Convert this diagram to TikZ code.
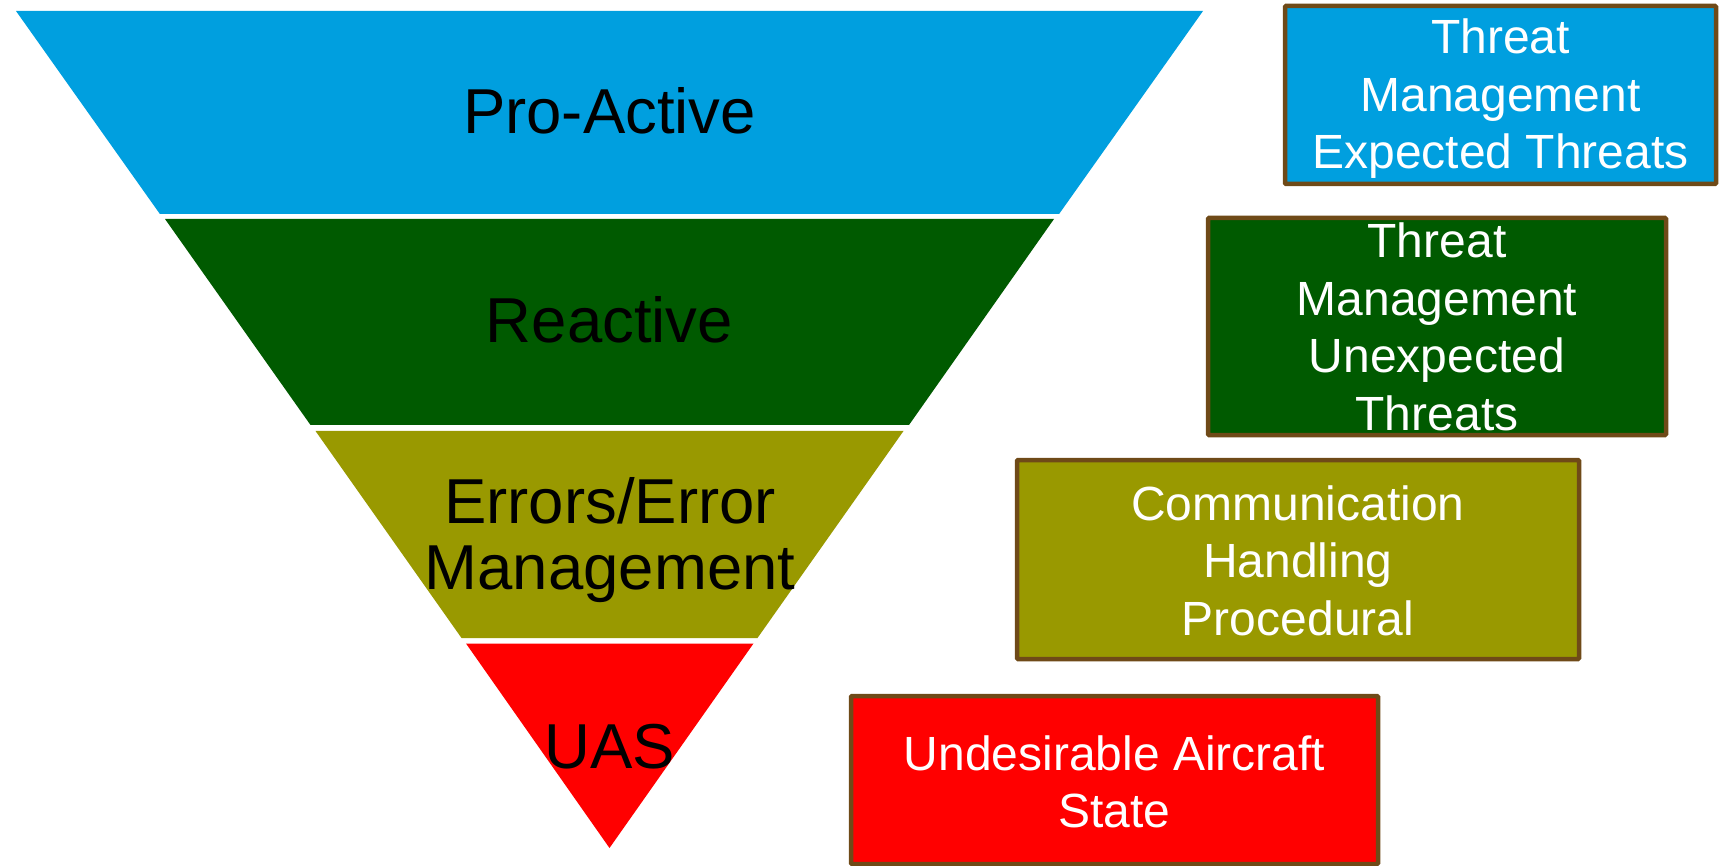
\documentclass[tikz,border=0pt]{standalone}
\usepackage{fontspec}
\setmainfont{Liberation Sans}

\definecolor{problue}{HTML}{009FDF}
\definecolor{reactgreen}{HTML}{005A00}
\definecolor{errolive}{HTML}{999900}
\definecolor{uasred}{HTML}{FF0000}
\definecolor{boxbrown}{HTML}{6F4A18}

% centred lines whose first baseline is the node's base
\newcommand\stacklines[1]{\begin{tabular}[t]{@{}c@{}}#1\end{tabular}}

\begin{document}
\begin{tikzpicture}[x=1pt,y=-1pt,
  bandlabel/.style={anchor=base, inner sep=0pt, text=black,
    font=\fontsize{63.5}{66}\selectfont},
  infobox/.style={draw=boxbrown, line width=4.5pt, rounded corners=1pt,
    inner sep=0pt, outer sep=0pt},
  boxtext/.style={anchor=base, inner sep=0pt, text=white,
    font=\fontsize{48}{57.5}\selectfont}]
\useasboundingbox (0,0) rectangle (1719,866);

% inverted pyramid, four bands
\fill[problue]    (16,11) -- (1203,11) -- (1059.1,214) -- (159.9,214) -- cycle;
\fill[reactgreen] (165,219) -- (1054,219) -- (909,425) -- (310.5,425) -- cycle;
\fill[errolive]   (315.5,431) -- (903.5,431) -- (757.5,638) -- (461.5,638) -- cycle;
\fill[uasred]     (466,643.5) -- (753.5,643.5) -- (609.5,848) -- cycle;

\node[bandlabel] (lproactive) at (609.5,134) {Pro-Active};
\node[bandlabel] (lreactive)  at (609.5,343) {Reactive};
\node[bandlabel] (lerrors)    at (610,523)   {\stacklines{Errors/Error\\Management}};
\node[bandlabel] (luas)       at (609.5,768) {UAS};

% description boxes
\node[infobox, fill=problue, minimum width=431pt, minimum height=178pt]
  (bexpected) at (1500.5,95) {};
\node[boxtext] (texpected) at (1500.5,54)
  {\stacklines{Threat\\Management\\Expected Threats}};

\node[infobox, fill=reactgreen, minimum width=458pt, minimum height=217pt]
  (bunexpected) at (1437,326.5) {};
\node[boxtext] (tunexpected) at (1437,258)
  {\stacklines{Threat\\Management\\Unexpected\\Threats}};

\node[infobox, fill=errolive, minimum width=562pt, minimum height=199pt]
  (berrors) at (1298,559.5) {};
\node[boxtext] (terrors) at (1298,520)
  {\stacklines{Communication\\Handling\\Procedural}};

\node[infobox, fill=uasred, minimum width=527pt, minimum height=168pt]
  (buas) at (1114.5,780) {};
\node[boxtext] (tuas) at (1114.5,770)
  {\stacklines{Undesirable Aircraft\\State}};
\end{tikzpicture}
\end{document}
